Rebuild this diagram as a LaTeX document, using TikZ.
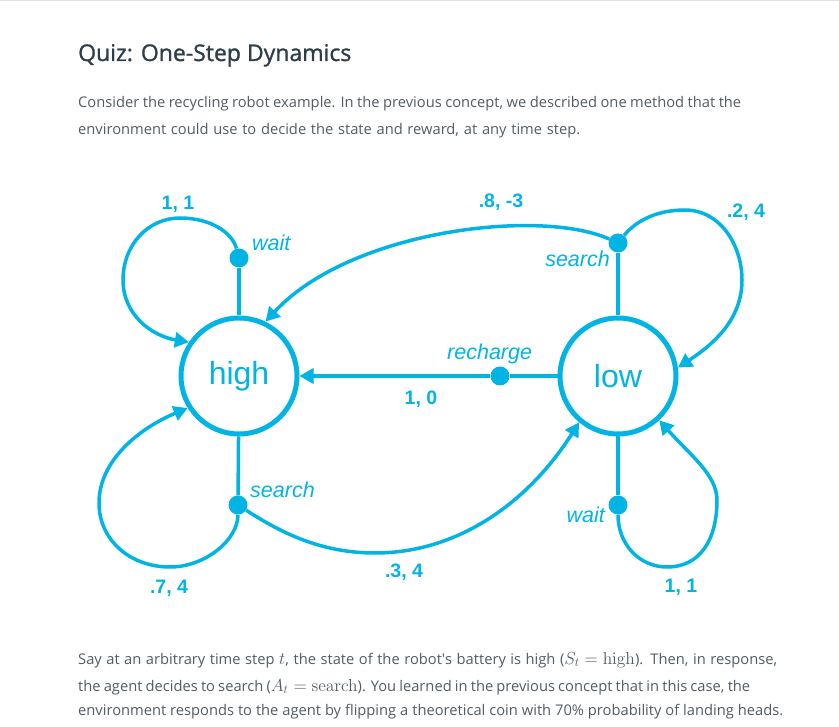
\documentclass[tikz,border=0pt]{standalone}
\usepackage{graphicx}
\usepackage[no-math]{fontspec}
\setmainfont{Open Sans}
\newfontfamily\titlefont[FakeBold=1.2]{Open Sans}
\newfontfamily\helv{Liberation Sans}
\usetikzlibrary{arrows.meta}
\definecolor{cy}{RGB}{2,180,228}
\definecolor{ttl}{RGB}{46,61,73}
\definecolor{bodyc}{RGB}{82,92,101}
\definecolor{rulec}{RGB}{219,226,232}
\newcommand{\bigmath}[1]{\scalebox{1.21}{$#1$}}
\newcommand{\fitline}[2]{\makebox[#1][s]{#2}}
\begin{document}
\begin{tikzpicture}[x=1pt,y=-1pt,
  state/.style={circle, draw=cy, line width=5pt, minimum size=116pt, inner sep=0pt, text=cy, font=\helv\fontsize{32}{32}\selectfont},
  dotnode/.style={circle, fill=cy, minimum size=19pt, inner sep=0pt},
  flow/.style={draw=cy, line width=3.5pt},
  arr/.style={-{Triangle[length=14pt,width=15pt]}},
  act/.style={text=cy, font=\helv\itshape\fontsize{21.5}{22}\selectfont, inner sep=0pt},
  prob/.style={text=cy, font=\helv\bfseries\fontsize{19.5}{20}\selectfont, inner sep=0pt, anchor=base},
  para/.style={text=bodyc, font=\fontsize{14.7}{18}\selectfont, inner sep=0pt, anchor=base west},
  titlestyle/.style={text=ttl, font=\titlefont\fontsize{23}{26}\selectfont, inner sep=0pt, anchor=base west}]
\useasboundingbox (0,0) rectangle (839,727);
\fill[rulec] (0,0) rectangle (839,1.5);
% texts
\node[titlestyle] (title) at (78,61) {Quiz: One-Step Dynamics};
\node[para] (p1) at (78,108) {\fitline{663pt}{Consider the recycling robot example. In the previous concept, we described one method that the}};
\node[para] (p2) at (78,135) {\fitline{502pt}{environment could use to decide the state and reward, at any time step.}};
\node[para] (q1) at (78,664) {\fitline{699pt}{Say at an arbitrary time step \bigmath{t}, the state of the robot\textquotesingle s battery is high (\bigmath{S_t = \mathrm{high}}). Then, in response,}};
\node[para] (q2) at (78,691) {\fitline{672pt}{the agent decides to search (\bigmath{A_t = \mathrm{search}}). You learned in the previous concept that in this case, the}};
\node[para] (q3) at (78,715) {\fitline{705pt}{environment responds to the agent by flipping a theoretical coin with 70\% probability of landing heads.}};
% states
\node[state] (high) at (239,376) {high};
\node[state] (low) at (618,376) {low};
% action dots
\node[dotnode] (hw) at (239,258) {};
\node[dotnode] (hs) at (238,505) {};
\node[dotnode] (ls) at (618,243) {};
\node[dotnode] (lr) at (500,376) {};
\node[dotnode] (lw) at (618,505) {};
% stems
\draw[flow] (high) -- (hw);
\draw[flow] (high) -- (hs);
\draw[flow] (low) -- (ls);
\draw[flow] (low) -- (lr);
\draw[flow] (low) -- (lw);
% transitions
\draw[flow,arr] (hw) .. controls (232,232) and (210,218) .. (180,218) .. controls (148,218) and (123,245) .. (123,280) .. controls (123,315) and (152,336) .. (high.146);
\draw[flow,arr] (hs) .. controls (238,540) and (205,567) .. (170,567) .. controls (130,567) and (99,540) .. (99,503) .. controls (99,460) and (140,428) .. (high.212);
\draw[flow,arr] (hs) .. controls (280,532) and (320,553) .. (375,553) .. controls (460,553) and (530,500) .. (low.230);
\draw[flow,arr] (ls) .. controls (540,208) and (350,230) .. (high.64);
\draw[flow,arr] (ls) .. controls (635,222) and (655,210) .. (685,210) .. controls (720,210) and (742,245) .. (742,280) .. controls (742,315) and (720,340) .. (low.8);
\draw[flow,arr] (lr) -- (high);
\draw[flow,arr] (lw) .. controls (618,545) and (640,567) .. (667,567) .. controls (700,567) and (717,540) .. (717,500) .. controls (717,475) and (690,455) .. (low.313);
% action labels
\node[act, anchor=base west] (lhw) at (252,251) {wait};
\node[act, anchor=base east] (lls) at (610,267) {search};
\node[act, anchor=base west] (llr) at (447,360) {recharge};
\node[act, anchor=base west] (lhs) at (250,498) {search};
\node[act, anchor=base east] (llw) at (605,522) {wait};
% probability labels
\node[prob] (p11a) at (178,210) {1, 1};
\node[prob] (p83) at (501,208) {.8, -3};
\node[prob] (p24) at (746,218) {.2, 4};
\node[prob] (p10) at (421,405) {1, 0};
\node[prob] (p74) at (169,593) {.7, 4};
\node[prob] (p34) at (404,577) {.3, 4};
\node[prob] (p11b) at (681,592) {1, 1};
\end{tikzpicture}
\end{document}
